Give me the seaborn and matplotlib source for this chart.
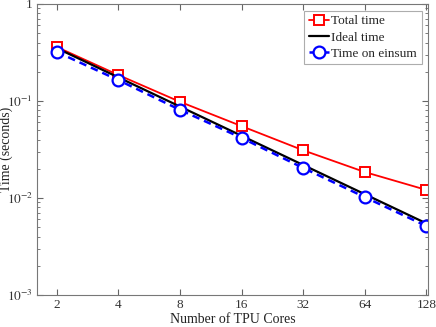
import matplotlib
matplotlib.use("Agg")
import matplotlib.pyplot as plt
import seaborn as sns
import pandas as pd
from matplotlib.ticker import NullFormatter, NullLocator, LogLocator

cores = [2, 4, 8, 16, 32, 64, 128]
total_time = [0.36, 0.185, 0.098, 0.055, 0.031, 0.0185, 0.0121]
ideal_time = [0.35, 0.175, 0.0875, 0.04375, 0.021875, 0.0109375, 0.00546875]
einsum_time = [0.32, 0.164, 0.081, 0.0416, 0.0204, 0.0102, 0.00514]
x_labels = ["2", "4", "8", "16", "32", "64", "128"]
y_ticks = [1e-3, 1e-2, 1e-1, 1]
y_labels = [r"$10^{-3}$", r"$10^{-2}$", r"$10^{-1}$", "1"]

sns.set_style("ticks")
plt.rcParams["font.family"] = ["Liberation Serif", "DejaVu Serif"]
plt.rcParams["mathtext.fontset"] = "stix"

df = pd.DataFrame({"cores": cores, "total": total_time, "ideal": ideal_time, "einsum": einsum_time})

fig = plt.figure(figsize=(4.36, 3.27), dpi=100)
ax = fig.add_axes([0.085, 0.098, 0.897, 0.89])

sns.lineplot(data=df, x="cores", y="total", ax=ax, color="#ff0000", lw=1.3,
             marker="s", markersize=7.5, markerfacecolor="white", markeredgecolor="#ff0000",
             markeredgewidth=1.4, label="Total time")
sns.lineplot(data=df, x="cores", y="ideal", ax=ax, color="black", lw=1.6, label="Ideal time")
sns.lineplot(data=df, x="cores", y="einsum", ax=ax, color="#0000ff", lw=1.8, linestyle=(0, (3, 2)),
             marker="o", markersize=8.5, markerfacecolor="white", markeredgecolor="#0000ff",
             markeredgewidth=1.6, label="Time on einsum")

ax.set_xscale("log", base=2)
ax.set_yscale("log")
ax.set_xlim(2 ** 0.68, 2 ** 7.03)
ax.set_ylim(1e-3, 1)
ax.set_xticks(cores)
ax.set_xticklabels(x_labels)
ax.xaxis.set_minor_locator(NullLocator())
ax.set_yticks(y_ticks)
ax.set_yticklabels(y_labels)
ax.yaxis.set_minor_locator(LogLocator(base=10, subs=range(2, 10)))
ax.yaxis.set_minor_formatter(NullFormatter())

ax.tick_params(which="both", direction="in", top=True, right=True, labelsize=9.5, colors="#666666",
               labelcolor="#333333")
ax.tick_params(which="major", length=4, pad=3)
ax.tick_params(which="minor", length=2)
for s in ax.spines.values():
    s.set_color("#777777")
    s.set_linewidth(0.8)

ax.set_xlabel("Number of TPU Cores", fontsize=10, labelpad=1, color="#222222")
ax.set_ylabel("Time (seconds)", fontsize=10, color="#222222")
ax.yaxis.set_label_coords(-0.062, 0.5)

leg = ax.legend(loc="upper right", fontsize=9.5, frameon=True, fancybox=False, edgecolor="#999999",
                handlelength=1.5, handletextpad=0.2, borderpad=0.35, labelspacing=0.3,
                borderaxespad=0.5)
leg.get_frame().set_linewidth(0.8)

fig.savefig("out.png", dpi=100)
